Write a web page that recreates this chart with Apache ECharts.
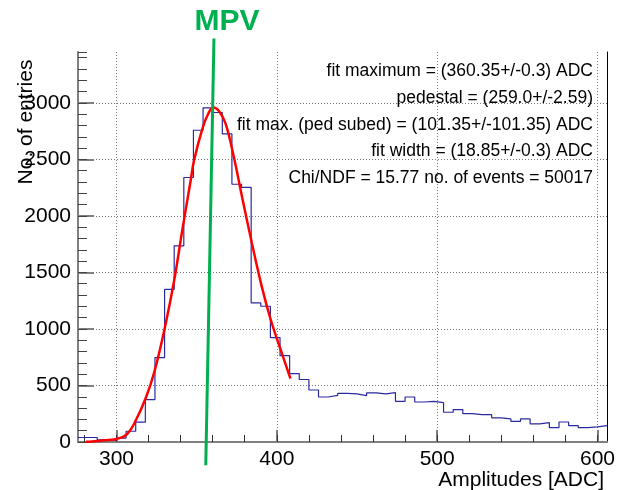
<!DOCTYPE html>
<html>
<head>
<meta charset="utf-8">
<script src="https://cdn.jsdelivr.net/npm/echarts@6/dist/echarts.min.js"></script>
<style>html,body{margin:0;padding:0;background:#fff}#c{width:618px;height:490px}</style>
</head>
<body>
<div id="c"></div>
<script>
// Histogram bins (lower edges, ADC) and counts
const binLow = [276,282,288,294,300,306,312,318,324,330,336,342,348,354,360,366,372,378,384,390,396,402,408,414,420,426,432,438,444,450,456,462,468,474,480,486,492,498,504,510,516,522,528,534,540,546,552,558,564,570,576,582,588,594,600];
const binHighLast = 606;
const counts = [40,40,20,15,35,95,175,375,747,1350,1735,2340,2758,2956,2915,2725,2280,2252,1230,1201,924,764,605,553,460,398,413,431,425,410,434,425,437,360,398,354,360,348,263,287,251,242,242,213,204,183,204,160,171,127,177,145,127,133,145];
// Fit curve
const fitX = [281,285,290,295,300,306,311.3,318.5,323.9,330,336,341,346.3,348.4,353.6,357.3,360.4,363.9,368,373.2,378.3,384.5,390.7,396.3,402.5,408.5];
const fitY = [2,5,12,18,27,62,170,398,635,1000,1431,1870,2316,2493,2773,2906,2959,2929,2818,2522,2170,1756,1370,1077,812,561];
// MPV marker line end points (data coords)
const mpvX = [355.7, 360.8];
const mpvY = [-206, 3570];
// Axis ticks
const xMajor = [300,400,500,600];
const xMinor = [280,300,320,340,360,380,400,420,440,460,480,500,520,540,560,580,600];
const statLines = [
  'fit maximum = (360.35+/-0.3) ADC',
  'pedestal = (259.0+/-2.59)',
  'fit max. (ped subed) = (101.35+/-101.35) ADC',
  'fit width = (18.85+/-0.3) ADC',
  'Chi/NDF = 15.77 no. of events = 50017'
];

const FF = 'Liberation Sans';
const histData = binLow.map((x,i)=>[x,counts[i]]);
histData.push([binHighLast, counts[counts.length-1]]);
const fitData = fitX.map((x,i)=>[x,fitY[i]]);
const mpvData = mpvX.map((x,i)=>[x,mpvY[i]]);

const chart = echarts.init(document.getElementById('c'), null, {renderer:'canvas'});
const grid = {left:78, right:7, top:52, bottom:48, containLabel:false};
const statY = [71,98,125,151,178];
const plain = v => String(v);
const option = {
  animation:false,
  backgroundColor:'#fff',
  grid: grid,
  xAxis: [
    {type:'value', min:276, max:606, position:'bottom',
     axisLine:{show:true,lineStyle:{color:'#808080',width:2}},
     axisTick:{show:true,inside:true,length:12,customValues:xMajor,lineStyle:{color:'#808080',width:2}},
     axisLabel:{show:true,customValues:xMajor,formatter:plain,margin:7,fontSize:21,fontFamily:FF,color:'#000'},
     splitLine:{show:true,customValues:xMajor,lineStyle:{color:'#777',type:[1,2],width:1}}},
    {type:'value', min:276, max:606, position:'bottom',
     axisLine:{show:false},
     axisTick:{show:true,inside:true,length:7,customValues:xMinor,lineStyle:{color:'#333',width:1}},
     axisLabel:{show:false},
     splitLine:{show:false}},
    {type:'value', min:276, max:606, position:'top',
     axisLine:{show:true,lineStyle:{color:'#808080',width:2}},
     axisTick:{show:false}, axisLabel:{show:false}, splitLine:{show:false}}
  ],
  yAxis: [
    {type:'value', min:0, max:3450, interval:500, position:'left',
     axisLine:{show:true,lineStyle:{color:'#808080',width:2}},
     axisTick:{show:true,inside:true,length:16,lineStyle:{color:'#808080',width:2}},
     axisLabel:{show:true,showMaxLabel:false,formatter:plain,margin:7,fontSize:21,fontFamily:FF,color:'#000'},
     splitLine:{show:true,showMaxLine:false,lineStyle:{color:'#777',type:[1,2],width:1}}},
    {type:'value', min:0, max:3450, interval:100, position:'left',
     axisLine:{show:false},
     axisTick:{show:true,inside:true,length:9,lineStyle:{color:'#444',width:1}},
     axisLabel:{show:false}, splitLine:{show:false}},
    {type:'value', min:0, max:3450, position:'right',
     axisLine:{show:true,lineStyle:{color:'#000',width:1}},
     axisTick:{show:false}, axisLabel:{show:false}, splitLine:{show:false}}
  ],
  series: [
    {type:'line', name:'hist', data:histData, step:'end', symbol:'none',
     lineStyle:{color:'#2a2aa0',width:1.2}, z:2},
    {type:'line', name:'fit', data:fitData, smooth:0.4, symbol:'none',
     lineStyle:{color:'#ff0000',width:2.5}, z:3},
    {type:'line', name:'MPV', data:mpvData, symbol:'none', clip:false,
     lineStyle:{color:'#00b050',width:3}, z:4}
  ],
  graphic: [
    {type:'text', x:227, y:22, z:10, style:{text:'MPV', fill:'#00b050', fontSize:30, fontWeight:'bold', fontFamily:FF, align:'center', verticalAlign:'middle'}},
    {type:'text', x:26, y:122, rotation:Math.PI/2, z:10, style:{text:'No. of entries', fill:'#000', fontSize:21, fontFamily:FF, align:'center', verticalAlign:'middle'}},
    {type:'text', x:604, y:480, z:10, style:{text:'Amplitudes [ADC]', fill:'#000', fontSize:21, fontFamily:FF, align:'right', verticalAlign:'middle'}}
  ].concat(statLines.map((t,i)=>({type:'text', x:593, y:statY[i], z:10,
     style:{text:t, fill:'#000', fontSize:17.5, fontFamily:FF, align:'right', verticalAlign:'middle'}})))
};
chart.setOption(option);
</script>
</body>
</html>
